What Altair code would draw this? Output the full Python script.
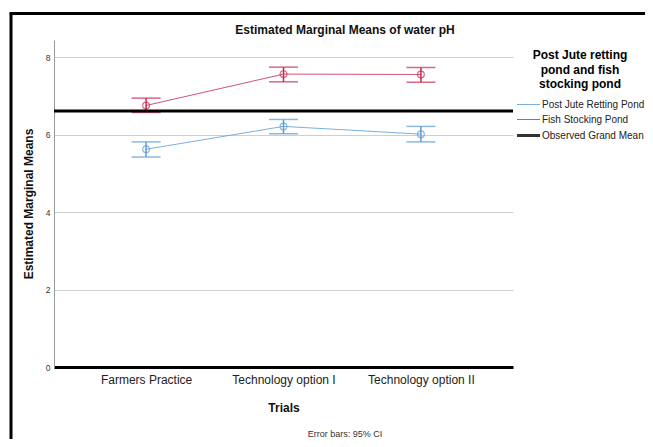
import altair as alt
import pandas as pd

trials = ["Farmers Practice", "Technology option I", "Technology option II"]
series_names = ["Post Jute Retting Pond", "Fish Stocking Pond"]
grand_mean_name = "Observed Grand Mean"
jute_mean = [5.62, 6.21, 6.01]
jute_lower = [5.42, 6.02, 5.81]
jute_upper = [5.81, 6.39, 6.21]
fish_mean = [6.75, 7.56, 7.55]
fish_lower = [6.57, 7.36, 7.35]
fish_upper = [6.94, 7.74, 7.73]
grand_mean = [6.61]
y_ticks = [0, 2, 4, 6, 8]
title_text = ["Estimated Marginal Means of water pH"]
legend_title = ["Post Jute retting", "pond and fish", "stocking pond"]
footnote = ["Error bars: 95% CI"]

rows = []
for name, m, lo, hi in [
    (series_names[0], jute_mean, jute_lower, jute_upper),
    (series_names[1], fish_mean, fish_lower, fish_upper),
]:
    for t, a, b, c in zip(trials, m, lo, hi):
        rows.append({"trial": t, "series": name, "mean": a, "lower": b, "upper": c})
df = pd.DataFrame(rows)
gm = pd.DataFrame({"series": [grand_mean_name], "mean": grand_mean})
foot = pd.DataFrame({"t": footnote})
ttl = pd.DataFrame({"t": title_text})
frame_df = pd.DataFrame({"k": [0]})

FONT = "Liberation Sans"
domain = series_names + [grand_mean_name]
colors = ["#5b9bd5", "#c8284f", "#000000"]
widths = [1, 1, 3]

x_enc = alt.X(
    "trial:N",
    sort=trials,
    scale=alt.Scale(type="point", padding=0.67),
    axis=alt.Axis(
        title="Trials", labelAngle=0, ticks=False, tickSize=0, domainColor="black",
        domainWidth=3, labelFontSize=12, labelPadding=7, labelColor="#222",
        titleFontSize=12, titleFontWeight="bold", titlePadding=17, grid=False,
    ),
)
y_scale = alt.Scale(domain=[0, 8.44], nice=False, zero=False)
y_axis = alt.Axis(
    title="Estimated Marginal Means", values=y_ticks, grid=True, gridColor="#cfcfcf",
    ticks=False, tickSize=0, domainColor="#999999", labelFontSize=8.5, labelColor="#333333",
    labelPadding=4, titleFontSize=12, titleFontWeight="bold", titlePadding=10, format="d",
)

color_legend = alt.Legend(
    orient="none", legendX=461, legendY=10, title=legend_title, titleFontSize=12,
    titleFont=FONT, titleFontWeight="bold", titleAlign="center", titleAnchor="middle",
    titleLineHeight=14.5, titlePadding=8, labelFontSize=10, labelFont=FONT, labelColor="#222",
    symbolType="M-2.3,0H2.3", symbolSize=100, symbolOffset=7, labelOffset=7,
    rowPadding=4, padding=0,
)
color_enc = alt.Color("series:N", scale=alt.Scale(domain=domain, range=colors), legend=color_legend)
sw_enc = alt.StrokeWidth(
    "series:N", scale=alt.Scale(type="ordinal", domain=domain, range=widths), legend=color_legend
)
color_nolegend = alt.Color("series:N", scale=alt.Scale(domain=domain, range=colors), legend=None)

base = alt.Chart(df)
lines = base.mark_line(opacity=0.8).encode(
    x=x_enc, y=alt.Y("mean:Q", scale=y_scale, axis=y_axis), color=color_enc, strokeWidth=sw_enc
)
gm_rule = alt.Chart(gm).mark_rule().encode(
    y=alt.Y("mean:Q", scale=y_scale), color=color_enc, strokeWidth=sw_enc
)
err = base.mark_rule(strokeWidth=1.5).encode(
    x=x_enc, y=alt.Y("lower:Q", scale=y_scale), y2="upper:Q", color=color_nolegend
)
cap_lo = base.mark_tick(thickness=1.5, size=29).encode(
    x=x_enc, y=alt.Y("lower:Q", scale=y_scale), color=color_nolegend
)
cap_hi = base.mark_tick(thickness=1.5, size=29).encode(
    x=x_enc, y=alt.Y("upper:Q", scale=y_scale), color=color_nolegend
)
pts = base.mark_point(shape="circle", size=45, filled=False, strokeWidth=1.2).encode(
    x=x_enc, y=alt.Y("mean:Q", scale=y_scale), color=color_nolegend
)
title_mark = alt.Chart(ttl).mark_text(
    font=FONT, fontSize=12, fontWeight="bold", color="#111111", baseline="middle"
).encode(x=alt.value(291), y=alt.value(-10), text="t:N")
foot_text = alt.Chart(foot).mark_text(font=FONT, fontSize=9, color="#333333", baseline="middle").encode(
    x=alt.value(291), y=alt.value(394), text="t:N"
)
frame_v = alt.Chart(frame_df).mark_rule(color="black", strokeWidth=3).encode(
    x=alt.value(-43), y=alt.value(-26.5), y2=alt.value(430)
)
frame_h = alt.Chart(frame_df).mark_rule(color="black", strokeWidth=3).encode(
    x=alt.value(-44.5), x2=alt.value(700), y=alt.value(-26.5)
)

chart = alt.layer(
    lines, err, cap_lo, cap_hi, pts, gm_rule, title_mark, foot_text, frame_v, frame_h
).properties(
    width=459, height=327, autosize="none",
    padding={"left": 46, "top": 32, "right": 132, "bottom": 72},
).configure_view(stroke=None).configure_axis(labelFont=FONT, titleFont=FONT, titleColor="#111")

chart.save("out.html", embed_options={"renderer": "svg", "actions": False})
